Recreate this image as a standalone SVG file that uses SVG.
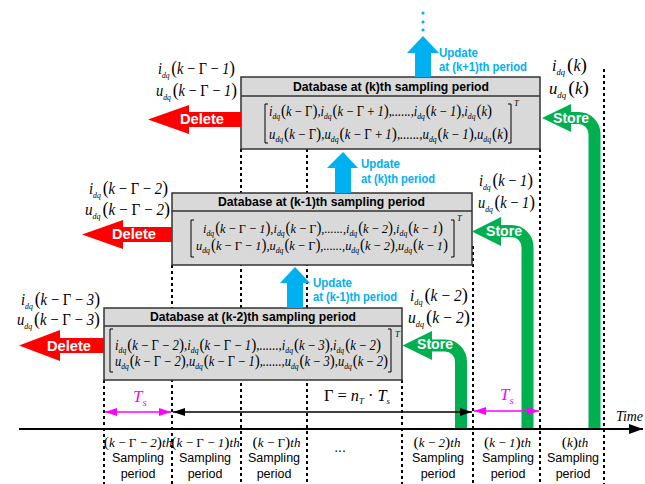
<svg xmlns="http://www.w3.org/2000/svg" width="645" height="484" viewBox="0 0 645 484">
<style>
.dot{stroke:#000;stroke-width:2;stroke-dasharray:3 3;fill:none}
.box{fill:#d9d9d9;stroke:#333;stroke-width:1.5}
.sep{stroke:#333;stroke-width:1.5}
.title{font-family:"Liberation Sans",Arial,sans-serif;font-weight:bold;font-size:13.5px;fill:#000}
.m{font-family:"Liberation Serif","Times New Roman",serif;font-style:italic;font-size:16px;fill:#000}
.mx{font-family:"Liberation Serif","Times New Roman",serif;font-style:italic;font-size:14px;fill:#000}
.mx2{font-size:13.5px}
.s{font-size:8.5px}
.n{font-style:normal}
.p{font-style:normal;font-size:1.2em}
.up{font-family:"Liberation Sans",Arial,sans-serif;font-weight:bold;font-size:12px;fill:#00b0f0}
.wh{font-family:"Liberation Sans",Arial,sans-serif;font-weight:bold;font-size:14.5px;fill:#fff}
.lbl{font-family:"Liberation Sans",Arial,sans-serif;font-size:12.5px;fill:#000;text-anchor:middle}
.bl{font-size:13px;text-anchor:middle}
.br{stroke:#000;stroke-width:1;fill:none}
.red{fill:#ff0000}
.blue{fill:#00b0f0}
.green{fill:#00b050}
.gs{stroke:#00b050;stroke-width:12;fill:none}
</style>
<defs>
<marker id="ahB" viewBox="0 0 12 8" refX="12" refY="4" markerWidth="12" markerHeight="8" markerUnits="userSpaceOnUse" orient="auto-start-reverse"><path d="M0,0 L12,4 L0,8 z" fill="#000"/></marker>
<marker id="ahM" viewBox="0 0 12 8" refX="12" refY="4" markerWidth="12" markerHeight="8" markerUnits="userSpaceOnUse" orient="auto-start-reverse"><path d="M0,0 L12,4 L0,8 z" fill="#ff00ff"/></marker>
<marker id="ahT" viewBox="0 0 14 10" refX="14" refY="5" markerWidth="14" markerHeight="10" markerUnits="userSpaceOnUse" orient="auto"><path d="M0,0 L14,5 L0,10 z" fill="#000"/></marker>
</defs>

<g id="grid">
<line class="dot" x1="104" y1="380" x2="104" y2="484"/>
<line class="dot" x1="172" y1="265" x2="172" y2="484"/>
<line class="dot" x1="241" y1="149" x2="241" y2="484"/>
<line class="dot" x1="307" y1="149" x2="307" y2="484"/>
<line class="dot" x1="402" y1="380" x2="402" y2="484"/>
<line class="dot" x1="473" y1="246" x2="473" y2="484"/>
<line class="dot" x1="540" y1="149" x2="540" y2="484"/>
<line class="dot" x1="604" y1="69" x2="604" y2="484"/>
</g>

<g id="db-k">
<rect class="box" x="241" y="77" width="299" height="72"/>
<line class="sep" x1="241" y1="96" x2="540" y2="96"/>
<text class="title" x="293" y="91" textLength="196" lengthAdjust="spacingAndGlyphs">Database at (k)th sampling period</text>
<path class="br" d="M268,104 H265 V143 H268 M508,104 H511 V143 H508"/>
<text class="mx" x="269" y="116" textLength="223" lengthAdjust="spacingAndGlyphs">i<tspan class="s" dy="3">dq</tspan><tspan dy="-3" dx="1" class="p">(</tspan>k&#8201;−&#8201;<tspan class="n">Γ</tspan><tspan class="p">)</tspan>,i<tspan class="s" dy="3">dq</tspan><tspan dy="-3" dx="1" class="p">(</tspan>k&#8201;−&#8201;<tspan class="n">Γ</tspan>&#8201;+&#8201;1<tspan class="p">)</tspan>,......,i<tspan class="s" dy="3">dq</tspan><tspan dy="-3" dx="1" class="p">(</tspan>k&#8201;−&#8201;1<tspan class="p">)</tspan>,i<tspan class="s" dy="3">dq</tspan><tspan dy="-3" dx="1" class="p">(</tspan>k<tspan class="p">)</tspan></text>
<text class="mx" x="269" y="139" textLength="239" lengthAdjust="spacingAndGlyphs">u<tspan class="s" dy="3">dq</tspan><tspan dy="-3" dx="1" class="p">(</tspan>k&#8201;−&#8201;<tspan class="n">Γ</tspan><tspan class="p">)</tspan>,u<tspan class="s" dy="3">dq</tspan><tspan dy="-3" dx="1" class="p">(</tspan>k&#8201;−&#8201;<tspan class="n">Γ</tspan>&#8201;+&#8201;1<tspan class="p">)</tspan>,......,u<tspan class="s" dy="3">dq</tspan><tspan dy="-3" dx="1" class="p">(</tspan>k&#8201;−&#8201;1<tspan class="p">)</tspan>,u<tspan class="s" dy="3">dq</tspan><tspan dy="-3" dx="1" class="p">(</tspan>k<tspan class="p">)</tspan></text>
<text class="mx s" x="514" y="106">T</text>
</g>

<g id="db-k1">
<rect class="box" x="172" y="193" width="300" height="72"/>
<line class="sep" x1="172" y1="211" x2="472" y2="211"/>
<text class="title" x="218" y="206" textLength="207" lengthAdjust="spacingAndGlyphs">Database at (k-1)th sampling period</text>
<path class="br" d="M194,220 H191 V257 H194 M451,220 H454 V257 H451"/>
<text class="mx mx2" x="203" y="233" textLength="240" lengthAdjust="spacingAndGlyphs">i<tspan class="s" dy="3">dq</tspan><tspan dy="-3" dx="1" class="p">(</tspan>k&#8201;−&#8201;<tspan class="n">Γ</tspan>&#8201;−&#8201;1<tspan class="p">)</tspan>,i<tspan class="s" dy="3">dq</tspan><tspan dy="-3" dx="1" class="p">(</tspan>k&#8201;−&#8201;<tspan class="n">Γ</tspan><tspan class="p">)</tspan>,......,i<tspan class="s" dy="3">dq</tspan><tspan dy="-3" dx="1" class="p">(</tspan>k&#8201;−&#8201;2<tspan class="p">)</tspan>,i<tspan class="s" dy="3">dq</tspan><tspan dy="-3" dx="1" class="p">(</tspan>k&#8201;−&#8201;1<tspan class="p">)</tspan></text>
<text class="mx mx2" x="196" y="250" textLength="252" lengthAdjust="spacingAndGlyphs">u<tspan class="s" dy="3">dq</tspan><tspan dy="-3" dx="1" class="p">(</tspan>k&#8201;−&#8201;<tspan class="n">Γ</tspan>&#8201;−&#8201;1<tspan class="p">)</tspan>,u<tspan class="s" dy="3">dq</tspan><tspan dy="-3" dx="1" class="p">(</tspan>k&#8201;−&#8201;<tspan class="n">Γ</tspan><tspan class="p">)</tspan>,......,u<tspan class="s" dy="3">dq</tspan><tspan dy="-3" dx="1" class="p">(</tspan>k&#8201;−&#8201;2<tspan class="p">)</tspan>,u<tspan class="s" dy="3">dq</tspan><tspan dy="-3" dx="1" class="p">(</tspan>k&#8201;−&#8201;1<tspan class="p">)</tspan></text>
<text class="mx s" x="457" y="221">T</text>
</g>

<g id="db-k2">
<rect class="box" x="104" y="308" width="298" height="72"/>
<line class="sep" x1="104" y1="326" x2="402" y2="326"/>
<text class="title" x="150" y="321" textLength="206" lengthAdjust="spacingAndGlyphs">Database at (k-2)th sampling period</text>
<path class="br" d="M113,329 H110 V372 H113 M388,329 H391 V372 H388"/>
<text class="mx" x="115" y="350" textLength="266" lengthAdjust="spacingAndGlyphs">i<tspan class="s" dy="3">dq</tspan><tspan dy="-3" dx="1" class="p">(</tspan>k&#8201;−&#8201;<tspan class="n">Γ</tspan>&#8201;−&#8201;2<tspan class="p">)</tspan>,i<tspan class="s" dy="3">dq</tspan><tspan dy="-3" dx="1" class="p">(</tspan>k&#8201;−&#8201;<tspan class="n">Γ</tspan>&#8201;−&#8201;1<tspan class="p">)</tspan>,......,i<tspan class="s" dy="3">dq</tspan><tspan dy="-3" dx="1" class="p">(</tspan>k&#8201;−&#8201;3<tspan class="p">)</tspan>,i<tspan class="s" dy="3">dq</tspan><tspan dy="-3" dx="1" class="p">(</tspan>k&#8201;−&#8201;2<tspan class="p">)</tspan></text>
<text class="mx" x="115" y="366" textLength="273" lengthAdjust="spacingAndGlyphs">u<tspan class="s" dy="3">dq</tspan><tspan dy="-3" dx="1" class="p">(</tspan>k&#8201;−&#8201;<tspan class="n">Γ</tspan>&#8201;−&#8201;2<tspan class="p">)</tspan>,u<tspan class="s" dy="3">dq</tspan><tspan dy="-3" dx="1" class="p">(</tspan>k&#8201;−&#8201;<tspan class="n">Γ</tspan>&#8201;−&#8201;1<tspan class="p">)</tspan>,......,u<tspan class="s" dy="3">dq</tspan><tspan dy="-3" dx="1" class="p">(</tspan>k&#8201;−&#8201;3<tspan class="p">)</tspan>,u<tspan class="s" dy="3">dq</tspan><tspan dy="-3" dx="1" class="p">(</tspan>k&#8201;−&#8201;2<tspan class="p">)</tspan></text>
<text class="mx s" x="395" y="337">T</text>
</g>

<g id="connectors">
<polygon class="red" points="148,119.5 189,105 189,112 241,112 241,127 189,127 189,134"/>
<polygon class="red" points="82,234.5 123,220 123,227 172,227 172,242 123,242 123,249"/>
<polygon class="red" points="19,345.5 60,330 60,338 104,338 104,353 60,353 60,361"/>
<polygon class="blue" points="423,36 439,53 431,53 431,77 415,77 415,53 407,53"/>
<circle class="blue" cx="423" cy="13" r="1.6"/>
<circle class="blue" cx="423" cy="22" r="1.6"/>
<circle class="blue" cx="423" cy="30" r="1.6"/>
<polygon class="blue" points="343,152 358,168 351,168 351,193 335,193 335,168 327,168"/>
<polygon class="blue" points="295,267 310,283 303,283 303,308 287,308 287,283 280,283"/>
<path class="gs" d="M594.5,428 V134 A16,16 0 0 0 578.5,118 H566"/>
<polygon class="green" points="542,118 571,104 571,132"/>
<path class="gs" d="M527.5,428 V247 A16,16 0 0 0 511.5,231 H497"/>
<polygon class="green" points="472,231.5 501,217 501,246"/>
<path class="gs" d="M461,428 V361.5 A16,16 0 0 0 445,345.5 H428"/>
<polygon class="green" points="402.5,345.5 432,331 432,360"/>
<line x1="19" y1="429" x2="643" y2="429" stroke="#000" stroke-width="2" marker-end="url(#ahT)"/>
<line x1="173" y1="412" x2="472" y2="412" stroke="#000" stroke-width="1.5" marker-start="url(#ahB)" marker-end="url(#ahB)"/>
<line x1="105" y1="412" x2="171" y2="412" stroke="#ff00ff" stroke-width="1.5" marker-start="url(#ahM)" marker-end="url(#ahM)"/>
<line x1="474" y1="411" x2="539" y2="411" stroke="#ff00ff" stroke-width="1.5" marker-start="url(#ahM)" marker-end="url(#ahM)"/>
</g>

<g id="arrow-labels">
<text class="wh" x="180" y="124" textLength="44" lengthAdjust="spacingAndGlyphs">Delete</text>
<text class="wh" x="112" y="239" textLength="44" lengthAdjust="spacingAndGlyphs">Delete</text>
<text class="wh" x="47" y="351" textLength="44" lengthAdjust="spacingAndGlyphs">Delete</text>
<text class="wh" x="553" y="123" textLength="36" lengthAdjust="spacingAndGlyphs">Store</text>
<text class="wh" x="486" y="236" textLength="36" lengthAdjust="spacingAndGlyphs">Store</text>
<text class="wh" x="417" y="349" textLength="36" lengthAdjust="spacingAndGlyphs">Store</text>
<text class="up" x="439" y="57" textLength="39" lengthAdjust="spacingAndGlyphs">Update</text>
<text class="up" x="439" y="71" textLength="88" lengthAdjust="spacingAndGlyphs">at (k+1)th period</text>
<text class="up" x="361" y="168" textLength="39" lengthAdjust="spacingAndGlyphs">Update</text>
<text class="up" x="361" y="183" textLength="74" lengthAdjust="spacingAndGlyphs">at (k)th period</text>
<text class="up" x="313" y="287" textLength="39" lengthAdjust="spacingAndGlyphs">Update</text>
<text class="up" x="313" y="301" textLength="84" lengthAdjust="spacingAndGlyphs">at (k-1)th period</text>
</g>

<g id="signal-labels">
<text class="m" x="158" y="74" textLength="77" lengthAdjust="spacingAndGlyphs">i<tspan class="s" dy="4">dq</tspan><tspan dy="-4" dx="2" class="p">(</tspan>k&#8201;−&#8201;<tspan class="n">Γ</tspan>&#8201;−&#8201;1<tspan class="p">)</tspan></text>
<text class="m" x="156" y="96" textLength="81" lengthAdjust="spacingAndGlyphs">u<tspan class="s" dy="4">dq</tspan><tspan dy="-4" dx="2" class="p">(</tspan>k&#8201;−&#8201;<tspan class="n">Γ</tspan>&#8201;−&#8201;1<tspan class="p">)</tspan></text>
<text class="m" x="89" y="194" textLength="79" lengthAdjust="spacingAndGlyphs">i<tspan class="s" dy="4">dq</tspan><tspan dy="-4" dx="2" class="p">(</tspan>k&#8201;−&#8201;<tspan class="n">Γ</tspan>&#8201;−&#8201;2<tspan class="p">)</tspan></text>
<text class="m" x="85" y="215" textLength="85" lengthAdjust="spacingAndGlyphs">u<tspan class="s" dy="4">dq</tspan><tspan dy="-4" dx="2" class="p">(</tspan>k&#8201;−&#8201;<tspan class="n">Γ</tspan>&#8201;−&#8201;2<tspan class="p">)</tspan></text>
<text class="m" x="21" y="305" textLength="79" lengthAdjust="spacingAndGlyphs">i<tspan class="s" dy="4">dq</tspan><tspan dy="-4" dx="2" class="p">(</tspan>k&#8201;−&#8201;<tspan class="n">Γ</tspan>&#8201;−&#8201;3<tspan class="p">)</tspan></text>
<text class="m" x="17" y="325" textLength="83" lengthAdjust="spacingAndGlyphs">u<tspan class="s" dy="4">dq</tspan><tspan dy="-4" dx="2" class="p">(</tspan>k&#8201;−&#8201;<tspan class="n">Γ</tspan>&#8201;−&#8201;3<tspan class="p">)</tspan></text>
<text class="m" x="552" y="71" textLength="35" lengthAdjust="spacingAndGlyphs">i<tspan class="s" dy="4">dq</tspan><tspan dy="-4" dx="2" class="p">(</tspan>k<tspan class="p">)</tspan></text>
<text class="m" x="549" y="94" textLength="40" lengthAdjust="spacingAndGlyphs">u<tspan class="s" dy="4">dq</tspan><tspan dy="-4" dx="2" class="p">(</tspan>k<tspan class="p">)</tspan></text>
<text class="m" x="479" y="186" textLength="54" lengthAdjust="spacingAndGlyphs">i<tspan class="s" dy="4">dq</tspan><tspan dy="-4" dx="2" class="p">(</tspan>k&#8201;−&#8201;1<tspan class="p">)</tspan></text>
<text class="m" x="478" y="208" textLength="57" lengthAdjust="spacingAndGlyphs">u<tspan class="s" dy="4">dq</tspan><tspan dy="-4" dx="2" class="p">(</tspan>k&#8201;−&#8201;1<tspan class="p">)</tspan></text>
<text class="m" x="410" y="301" textLength="58" lengthAdjust="spacingAndGlyphs">i<tspan class="s" dy="4">dq</tspan><tspan dy="-4" dx="2" class="p">(</tspan>k&#8201;−&#8201;2<tspan class="p">)</tspan></text>
<text class="m" x="408" y="323" textLength="62" lengthAdjust="spacingAndGlyphs">u<tspan class="s" dy="4">dq</tspan><tspan dy="-4" dx="2" class="p">(</tspan>k&#8201;−&#8201;2<tspan class="p">)</tspan></text>
</g>

<g id="time-labels">
<text class="m" x="133" y="402" style="fill:#ff00ff;font-size:17px">T<tspan class="s" dy="4" style="font-size:11px">s</tspan></text>
<text class="m" x="500" y="400" style="fill:#ff00ff;font-size:17px">T<tspan class="s" dy="4" style="font-size:11px">s</tspan></text>
<text class="m" x="324" y="401" textLength="66" lengthAdjust="spacingAndGlyphs"><tspan class="n">Γ = </tspan>n<tspan class="s" dy="3">T</tspan><tspan dy="-3" class="n"> · </tspan>T<tspan class="s" dy="3">s</tspan></text>
<text class="m" x="616" y="421" textLength="27" lengthAdjust="spacingAndGlyphs" style="font-size:15px">Time</text>
<text class="m bl" x="138" y="447"><tspan class="p">(</tspan>k&#8201;−&#8201;<tspan class="n">Γ</tspan>&#8201;−&#8201;2<tspan class="p">)</tspan>th</text>
<text class="m bl" x="205.5" y="447"><tspan class="p">(</tspan>k&#8201;−&#8201;<tspan class="n">Γ</tspan>&#8201;−&#8201;1<tspan class="p">)</tspan>th</text>
<text class="m bl" x="276.5" y="447"><tspan class="p">(</tspan>k&#8201;−&#8201;<tspan class="n">Γ</tspan><tspan class="p">)</tspan>th</text>
<text class="m bl" x="437" y="447"><tspan class="p">(</tspan>k&#8201;−&#8201;2<tspan class="p">)</tspan>th</text>
<text class="m bl" x="507.5" y="447"><tspan class="p">(</tspan>k&#8201;−&#8201;1<tspan class="p">)</tspan>th</text>
<text class="m bl" x="575" y="447"><tspan class="p">(</tspan>k<tspan class="p">)</tspan>th</text>
<text class="lbl" x="340" y="452" style="font-size:14px">...</text>
<text class="lbl" x="138" y="462">Sampling</text>
<text class="lbl" x="205" y="462">Sampling</text>
<text class="lbl" x="274" y="462">Sampling</text>
<text class="lbl" x="438" y="462">Sampling</text>
<text class="lbl" x="508" y="462">Sampling</text>
<text class="lbl" x="573" y="462">Sampling</text>
<text class="lbl" x="138" y="478">period</text>
<text class="lbl" x="205" y="478">period</text>
<text class="lbl" x="274" y="478">period</text>
<text class="lbl" x="438" y="478">period</text>
<text class="lbl" x="508" y="478">period</text>
<text class="lbl" x="573" y="478">period</text>
</g>
</svg>
